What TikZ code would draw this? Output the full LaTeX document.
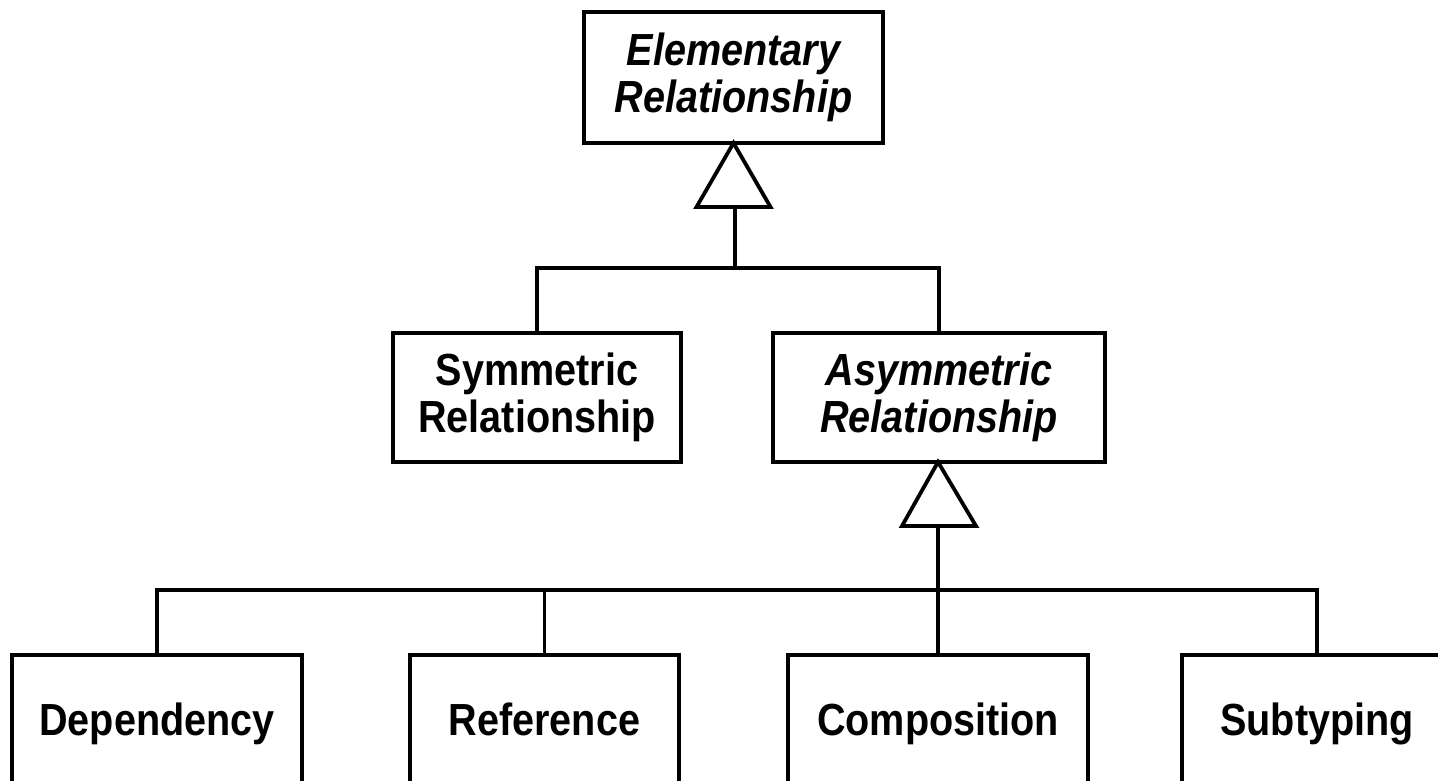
\documentclass[tikz,border=0pt]{standalone}
\usepackage{fontspec}
\newfontfamily\labfont{Liberation Sans}[FakeStretch=0.88]
\usetikzlibrary{calc}
\begin{document}
\begin{tikzpicture}[x=1pt,y=-1pt,
  cls/.style={draw=black, fill=white, line width=3.8pt, rectangle, inner sep=0pt,
    outer sep=0pt, align=center, font=\labfont\fontsize{45}{47}\selectfont\bfseries},
  abstractcls/.style={cls, font=\labfont\fontsize{45}{47}\selectfont\bfseries\itshape},
  leafcls/.style={cls, minimum height=128, text height=36pt, text depth=4pt},
  link/.style={line width=3.8pt, line join=miter}]
  \useasboundingbox (0,0) rectangle (1438,781);
  \clip (0,0) rectangle (1438,781);

  % top level
  \node[abstractcls, minimum width=299, minimum height=131] (elem) at (733.5,77.5)
    {Elementary\\Relationship};

  % second level
  \node[cls, minimum width=288, minimum height=129] (sym) at (537,397.5)
    {Symmetric\\Relationship};
  \node[abstractcls, minimum width=332, minimum height=129] (asym) at (939,397.5)
    {Asymmetric\\Relationship};

  % third level (boxes run past the lower edge)
  \node[leafcls, minimum width=290] (dep) at (157,719) {Dependency};
  \node[leafcls, minimum width=269] (ref) at (544.5,719) {Reference};
  \node[leafcls, minimum width=300] (comp) at (938,719) {Composition};
  \node[leafcls, minimum width=270] (sub) at (1317,719) {Subtyping};

  % generalisation of the first level
  \coordinate (t1) at ($(elem.south)+(0,64)$);
  \draw[link] (elem.south) -- ++(-37,64) -- ++(74,0) -- cycle;
  \coordinate (j1) at (735,268);
  \draw[link] (sym.north) |- (j1) -| (asym.north);
  \draw[link] (j1) -- (j1 |- t1);

  % generalisation of the asymmetric relationships
  \coordinate (t2) at ($(asym.south)+(0,64)$);
  \draw[link] ([xshift=-1pt]asym.south) -- ++(-36,64) -- ++(74,0) -- cycle;
  \coordinate (j2) at (938,590);
  \draw[link] (dep.north) |- (j2);
  \draw[link] (ref.north) |- (j2);
  \draw[link] (sub.north) |- (j2);
  \draw[link] (comp.north) -- (j2);
  \draw[link] (j2) -- (j2 |- t2);
\end{tikzpicture}
\end{document}
